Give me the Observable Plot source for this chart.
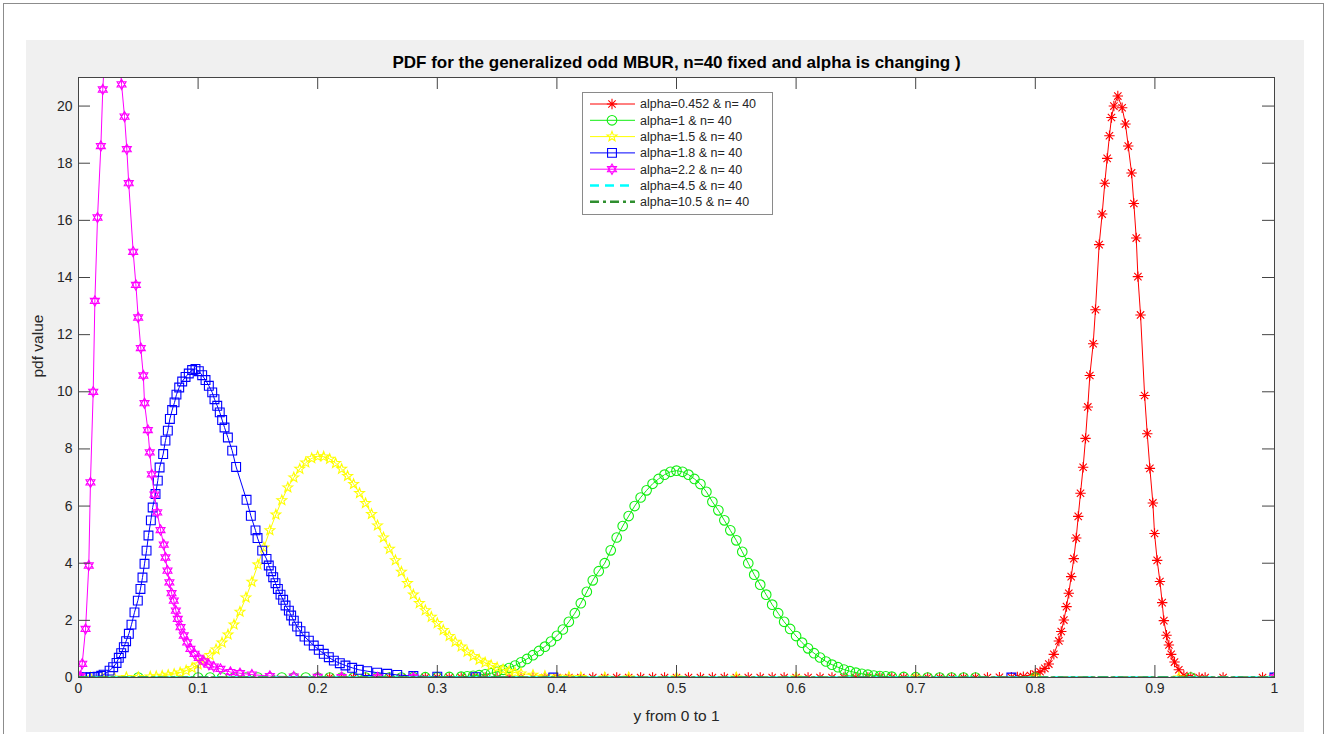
<!DOCTYPE html>
<html>
<head>
<meta charset="utf-8">
<script src="https://cdn.jsdelivr.net/npm/d3@7"></script>
<script src="https://cdn.jsdelivr.net/npm/@observablehq/plot@0.6"></script>
<style>
html,body{margin:0;padding:0;background:#fff;}
#page{position:relative;width:1327px;height:734px;overflow:hidden;background:#fff;font-family:"Liberation Sans",Arial,sans-serif;}
#border{position:absolute;left:3px;top:3px;width:1321px;height:800px;border:1.5px solid #8c8c8c;box-sizing:border-box;}
#panel{position:absolute;left:26px;top:40px;width:1278px;height:692px;background:#f0f0f0;}
#chart{position:absolute;left:26px;top:40px;}
#legend{position:absolute;left:0;top:0;pointer-events:none;}
</style>
</head>
<body>
<div id="page">
  <div id="border"></div>
  <div id="panel"></div>
  <div id="chart"></div>
  <svg id="legend" width="1327" height="734"></svg>
</div>
<script>
// ---------------- data ----------------
const titleText = "PDF for the generalized odd MBUR, n=40 fixed and alpha is changing )";
const xLabel = "y from 0 to 1";
const yLabel = "pdf value";
const xTicks = [0, 0.1, 0.2, 0.3, 0.4, 0.5, 0.6, 0.7, 0.8, 0.9, 1];
const yTicks = [0, 2, 4, 6, 8, 10, 12, 14, 16, 18, 20];
const seriesNames = ["alpha=0.452 & n= 40", "alpha=1 & n= 40", "alpha=1.5 & n= 40", "alpha=1.8 & n= 40", "alpha=2.2 & n= 40", "alpha=4.5 & n= 40", "alpha=10.5 & n= 40"];
const seriesColors = ["#ff0000", "#11ee11", "#ffff00", "#0000ff", "#ff00ff", "#00ffff", "#2f8f2f"];

// alpha = 0.452
const redPts = [[0,0],[0.21,0],[0.22,0],[0.23,0],[0.24,0],[0.25,0],[0.26,0],[0.27,0],[0.28,0],[0.29,0],[0.30,0],[0.31,0],[0.32,0],[0.33,0],[0.34,0],[0.35,0],[0.36,0],[0.37,0],[0.38,0],[0.39,0],[0.40,0],[0.41,0],[0.42,0],[0.43,0],[0.44,0],[0.45,0],[0.46,0],[0.47,0],[0.48,0],[0.49,0],[0.50,0],[0.51,0],[0.52,0],[0.53,0],[0.54,0],[0.55,0],[0.56,0],[0.57,0],[0.58,0],[0.59,0],[0.60,0],[0.61,0],[0.62,0],[0.63,0],[0.64,0],[0.65,0],[0.66,0],[0.67,0],[0.68,0],[0.69,0],[0.70,0],[0.71,0],[0.72,0],[0.73,0],[0.74,0],[0.75,0],[0.76,0],[0.77,0.01],[0.78,0.01],[0.785,0.02],[0.79,0.03],[0.796,0.07],[0.800,0.12],[0.804,0.2],[0.808,0.32],[0.8113,0.47],[0.8155,0.81],[0.8197,1.28],[0.8217,1.61],[0.8239,2.01],[0.8261,2.48],[0.828,2.95],[0.83,3.53],[0.8322,4.16],[0.8342,4.88],[0.8359,5.64],[0.8378,6.45],[0.84,7.36],[0.842,8.37],[0.8439,9.47],[0.8456,10.57],[0.8484,11.68],[0.8503,12.87],[0.8534,15.15],[0.8559,16.22],[0.8581,17.3],[0.8601,18.17],[0.862,18.96],[0.8637,19.6],[0.8657,20.0],[0.869,20.35],[0.8726,19.94],[0.8754,19.37],[0.8777,18.6],[0.8805,17.66],[0.8824,16.59],[0.8844,15.38],[0.8858,14.03],[0.888,12.69],[0.8914,9.87],[0.8936,8.53],[0.8958,7.32],[0.8983,6.11],[0.8997,5.04],[0.9019,4.1],[0.9042,3.36],[0.9061,2.62],[0.9075,1.99],[0.9097,1.48],[0.9117,1.14],[0.9136,0.81],[0.9164,0.54],[0.92,0.27],[0.9242,0.07],[0.93,0.02],[0.937,0],[0.942,0],[0.957,0],[0.99,0],[1,0]];

// alpha = 1
const greenPts = [[0,0],[0.05,0],[0.1,0],[0.11,0],[0.12,0],[0.13,0],[0.14,0],[0.15,0],[0.16,0],[0.17,0],[0.18,0],[0.19,0],[0.2,0],[0.21,0],[0.22,0],[0.23,0],[0.24,0],[0.25,0],[0.26,0],[0.27,0],[0.28,0.01],[0.29,0.01],[0.3,0.01],[0.31,0.02],[0.32,0.03],[0.325,0.04],[0.33,0.06],[0.335,0.08],[0.34,0.11],[0.345,0.15],[0.35,0.2],[0.355,0.27],[0.36,0.33],[0.365,0.42],[0.37,0.53],[0.375,0.65],[0.38,0.78],[0.385,0.93],[0.39,1.08],[0.395,1.26],[0.4,1.46],[0.405,1.68],[0.41,1.95],[0.415,2.25],[0.42,2.6],[0.425,3.0],[0.43,3.4],[0.435,3.72],[0.44,4.0],[0.445,4.45],[0.45,4.9],[0.455,5.3],[0.46,5.65],[0.465,6.0],[0.47,6.3],[0.475,6.55],[0.48,6.78],[0.485,6.95],[0.49,7.1],[0.495,7.2],[0.5,7.24],[0.505,7.2],[0.51,7.1],[0.515,6.95],[0.52,6.77],[0.525,6.5],[0.53,6.15],[0.535,5.85],[0.54,5.5],[0.545,5.15],[0.55,4.8],[0.555,4.4],[0.56,4.0],[0.565,3.6],[0.57,3.25],[0.575,2.9],[0.58,2.55],[0.585,2.25],[0.59,1.95],[0.595,1.7],[0.6,1.45],[0.605,1.22],[0.61,1.02],[0.615,0.85],[0.62,0.7],[0.625,0.56],[0.63,0.45],[0.635,0.36],[0.64,0.28],[0.645,0.22],[0.65,0.17],[0.655,0.13],[0.66,0.1],[0.665,0.07],[0.67,0.05],[0.675,0.04],[0.68,0.03],[0.69,0.02],[0.7,0.01],[0.71,0],[0.72,0],[0.73,0],[0.74,0],[0.75,0],[0.8,0],[0.93,0],[1,0]];

// alpha = 1.5
const yellowPts = [[0,0],[0.01,0],[0.02,0],[0.03,0],[0.04,0.01],[0.05,0.01],[0.06,0.03],[0.065,0.04],[0.07,0.06],[0.075,0.09],[0.08,0.12],[0.085,0.17],[0.09,0.24],[0.095,0.33],[0.1,0.45],[0.105,0.6],[0.11,0.78],[0.115,0.98],[0.12,1.22],[0.125,1.5],[0.13,1.85],[0.135,2.3],[0.14,2.8],[0.145,3.35],[0.15,3.95],[0.155,4.55],[0.16,5.15],[0.165,5.7],[0.17,6.2],[0.175,6.65],[0.18,7.0],[0.185,7.3],[0.19,7.52],[0.195,7.67],[0.2,7.74],[0.205,7.73],[0.21,7.65],[0.215,7.5],[0.22,7.3],[0.225,7.05],[0.23,6.77],[0.235,6.45],[0.24,6.1],[0.245,5.72],[0.25,5.32],[0.255,4.9],[0.26,4.5],[0.265,4.1],[0.27,3.7],[0.275,3.3],[0.28,2.9],[0.285,2.6],[0.29,2.35],[0.295,2.12],[0.3,1.9],[0.305,1.66],[0.31,1.45],[0.315,1.25],[0.32,1.08],[0.325,0.9],[0.33,0.75],[0.335,0.62],[0.34,0.52],[0.345,0.43],[0.35,0.35],[0.355,0.28],[0.36,0.22],[0.365,0.17],[0.37,0.14],[0.38,0.09],[0.39,0.05],[0.4,0.03],[0.41,0.02],[0.42,0.01],[0.44,0],[0.46,0],[0.5,0],[0.55,0],[0.6,0],[0.7,0],[0.8,0],[0.92,0],[1,0]];

// alpha = 1.8
const bluePts = [[0,0],[0.003,0],[0.006,0],[0.01,0.01],[0.013,0.02],[0.016,0.03],[0.019,0.06],[0.021,0.1],[0.026,0.24],[0.029,0.36],[0.0318,0.51],[0.0337,0.69],[0.0357,0.85],[0.0379,1.06],[0.0398,1.27],[0.0421,1.53],[0.0443,1.85],[0.0468,2.28],[0.0496,2.69],[0.0518,3.1],[0.0535,3.5],[0.0552,3.98],[0.0569,4.44],[0.0585,4.97],[0.0605,5.5],[0.062,5.95],[0.0644,6.42],[0.0663,6.89],[0.0678,7.35],[0.0708,7.82],[0.0727,8.29],[0.0747,8.64],[0.0764,9.05],[0.0783,9.36],[0.0803,9.63],[0.0819,9.9],[0.0842,10.15],[0.0867,10.36],[0.0895,10.52],[0.0922,10.64],[0.095,10.76],[0.0978,10.8],[0.1006,10.72],[0.1034,10.58],[0.1062,10.41],[0.109,10.21],[0.1118,9.98],[0.1137,9.74],[0.116,9.51],[0.1181,9.28],[0.1201,9.01],[0.1221,8.75],[0.1249,8.4],[0.1285,7.94],[0.1318,7.37],[0.1405,6.22],[0.1441,5.66],[0.148,5.15],[0.1497,4.88],[0.1536,4.44],[0.1572,4.15],[0.1591,3.92],[0.1611,3.72],[0.1628,3.51],[0.1647,3.3],[0.1667,3.1],[0.1689,2.9],[0.1711,2.72],[0.1731,2.52],[0.1759,2.34],[0.1778,2.17],[0.18,1.99],[0.1828,1.78],[0.1856,1.62],[0.189,1.43],[0.1926,1.29],[0.1967,1.12],[0.2009,0.97],[0.2051,0.83],[0.2093,0.71],[0.2135,0.59],[0.2185,0.5],[0.2232,0.42],[0.2288,0.34],[0.2344,0.27],[0.2414,0.22],[0.2497,0.17],[0.2581,0.13],[0.2665,0.09],[0.28,0.05],[0.3,0.03],[0.332,0.01],[0.397,0],[0.78,0],[1,0]];

// alpha = 2.2
const magentaPts = [[0,0],[0.0015,0.05],[0.0031,0.48],[0.0059,1.7],[0.0086,3.92],[0.01,6.83],[0.0123,10.0],[0.0137,13.18],[0.0159,16.1],[0.0187,18.6],[0.0203,20.58],[0.0225,22.2],[0.025,23.2],[0.0275,23.6],[0.03,23.4],[0.0325,22.6],[0.034,21.9],[0.036,20.76],[0.0385,19.63],[0.0404,18.49],[0.042,17.3],[0.0457,14.9],[0.048,13.74],[0.0499,12.6],[0.0521,11.53],[0.0542,10.57],[0.0552,9.6],[0.058,8.66],[0.0596,7.88],[0.0613,7.11],[0.0635,6.4],[0.0658,5.78],[0.0686,5.16],[0.0713,4.65],[0.0727,4.2],[0.0744,3.74],[0.076,3.33],[0.0778,2.95],[0.0797,2.69],[0.0814,2.34],[0.083,2.05],[0.0853,1.76],[0.088,1.47],[0.0909,1.23],[0.0936,1.0],[0.097,0.83],[0.1006,0.69],[0.1048,0.56],[0.109,0.45],[0.1131,0.38],[0.1187,0.3],[0.127,0.19],[0.135,0.15],[0.145,0.1],[0.16,0.05],[0.18,0.03],[0.2,0.02],[0.22,0.01],[0.25,0],[0.28,0],[1,0]];

// alpha = 4.5 and alpha = 10.5 (flat at zero across the range)
const cyanPts = [[0,0],[0.25,0],[0.5,0],[0.75,0],[1,0]];
const darkGreenPts = [[0,0],[0.25,0],[0.5,0],[0.75,0],[1,0]];

// ---------------- marker symbols ----------------
const sym = fn => ({draw(ctx, size) { const h = Math.sqrt(size / Math.PI); fn(ctx, h); }});
const asterisk8 = sym((c, h) => { const d = h * 0.7071; c.moveTo(-h, 0); c.lineTo(h, 0); c.moveTo(0, -h); c.lineTo(0, h); c.moveTo(-d, -d); c.lineTo(d, d); c.moveTo(-d, d); c.lineTo(d, -d); });
const squareS = sym((c, h) => { const s = h * 0.85; c.moveTo(-s, -s); c.lineTo(s, -s); c.lineTo(s, s); c.lineTo(-s, s); c.closePath(); });
const circleS = sym((c, h) => { c.moveTo(h, 0); c.arc(0, 0, h, 0, 2 * Math.PI); });
const hexagram = sym((c, h) => { for (const off of [-Math.PI / 2, Math.PI / 2]) { for (let i = 0; i < 3; i++) { const a = off + i * 2 * Math.PI / 3; const px = h * Math.cos(a), py = h * Math.sin(a); if (i) c.lineTo(px, py); else c.moveTo(px, py); } c.closePath(); } });
const pentagram = sym((c, h) => { for (let i = 0; i < 10; i++) { const r = i % 2 ? h * 0.42 : h; const a = -Math.PI / 2 + i * Math.PI / 5; const px = r * Math.cos(a), py = r * Math.sin(a); if (i) c.lineTo(px, py); else c.moveTo(px, py); } c.closePath(); });

const series = [
  {pts: redPts, symbol: asterisk8, r: 5.2, dash: null, width: 1},
  {pts: greenPts, symbol: circleS, r: 4.8, dash: null, width: 1},
  {pts: yellowPts, symbol: pentagram, r: 5.2, dash: null, width: 1},
  {pts: bluePts, symbol: squareS, r: 5.2, dash: null, width: 1},
  {pts: magentaPts, symbol: hexagram, r: 5.2, dash: null, width: 1},
  {pts: cyanPts, symbol: null, r: 0, dash: "9,6", width: 2.5},
  {pts: darkGreenPts, symbol: null, r: 0, dash: "9,4,3,4", width: 2.5}
];

const rows = (pts, i) => pts.map(([x, y]) => ({x, y, name: seriesNames[i]}));

const marks = [Plot.frame({fill: "white", stroke: null})];
series.forEach((s, i) => {
  const data = rows(s.pts, i);
  marks.push(Plot.line(data, {x: "x", y: "y", stroke: seriesColors[i], strokeWidth: s.width, strokeDasharray: s.dash, clip: true}));
  if (s.symbol) marks.push(Plot.dot(data, {x: "x", y: "y", symbol: s.symbol, r: s.r, stroke: seriesColors[i], fill: "none", strokeWidth: 1.1, clip: true}));
});
marks.push(
  Plot.ruleX(xTicks, {x: d => d, insetTop: 588, stroke: "#444", strokeWidth: 1}),
  Plot.ruleX(xTicks, {x: d => d, insetBottom: 588, stroke: "#444", strokeWidth: 1}),
  Plot.ruleY(yTicks, {y: d => d, insetRight: 1184, stroke: "#444", strokeWidth: 1}),
  Plot.ruleY(yTicks, {y: d => d, insetLeft: 1184, stroke: "#444", strokeWidth: 1}),
  Plot.frame({stroke: "#444", strokeWidth: 1}),
  Plot.axisX(xTicks, {anchor: "bottom", tickSize: 0, tickPadding: 6, label: null, tickFormat: d => String(d), fill: "#262626", fontSize: 14}),
  Plot.axisY(yTicks, {anchor: "left", tickSize: 0, tickPadding: 6, label: null, tickFormat: d => String(d), fill: "#262626", fontSize: 14}),
  Plot.text([titleText], {text: d => d, frameAnchor: "top", lineAnchor: "middle", dy: -15, fontWeight: "bold", fontSize: 17, fill: "#000"}),
  Plot.text([xLabel], {text: d => d, frameAnchor: "bottom", lineAnchor: "middle", dy: 39, fontSize: 15.5, fill: "#262626"}),
  Plot.text([yLabel], {text: d => d, frameAnchor: "left", dx: -40, rotate: -90, fontSize: 15.5, fill: "#262626"})
);

const chart = Plot.plot({
  width: 1278, height: 692,
  marginLeft: 52, marginRight: 30, marginTop: 37, marginBottom: 55,
  style: {background: "transparent", fontFamily: "'Liberation Sans', Arial, sans-serif", fontSize: "14px", color: "#262626", overflow: "visible"},
  x: {domain: [0, 1], label: null},
  y: {domain: [0, 21], label: null},
  marks
});
document.getElementById("chart").appendChild(chart);

// ---------------- legend ----------------
const lg = d3.select("#legend");
const bx = 582, by = 92, bw = 190, bh = 122;
lg.append("rect").attr("x", bx + 0.5).attr("y", by + 0.5).attr("width", bw).attr("height", bh).attr("fill", "white").attr("stroke", "#8a8a8a").attr("stroke-width", 1);
seriesNames.forEach((name, i) => {
  const s = series[i];
  const cy = 104 + 16.3 * i;
  lg.append("line").attr("x1", 590).attr("x2", 635).attr("y1", cy).attr("y2", cy)
    .attr("stroke", seriesColors[i]).attr("stroke-width", s.width === 1 ? 1 : 2.5)
    .attr("stroke-dasharray", s.dash);
  if (s.symbol) {
    lg.append("path").attr("transform", `translate(612,${cy})`)
      .attr("d", d3.symbol().type(s.symbol).size(Math.PI * s.r * s.r)())
      .attr("fill", "none").attr("stroke", seriesColors[i]).attr("stroke-width", 1.1);
  }
  lg.append("text").attr("x", 640).attr("y", cy).attr("dy", "0.35em")
    .attr("font-family", "'Liberation Sans', Arial, sans-serif").attr("font-size", 12.5)
    .attr("fill", "#262626").text(name);
});
</script>
</body>
</html>
